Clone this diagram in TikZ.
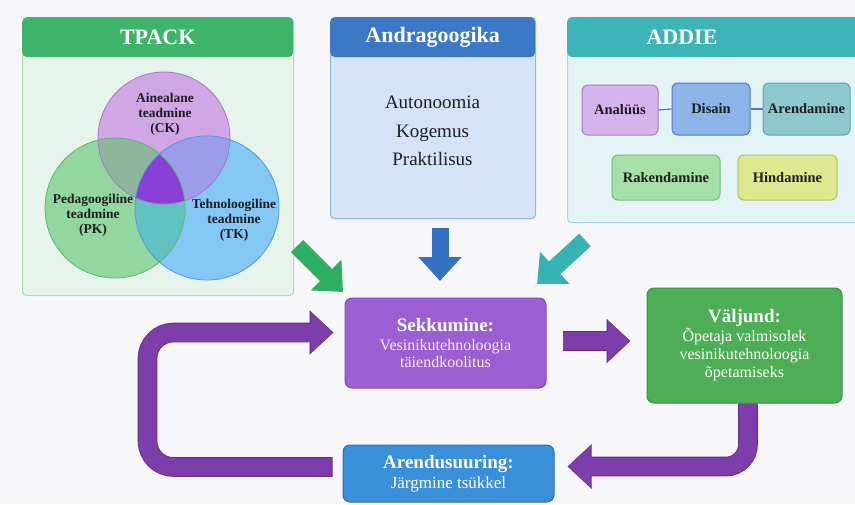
\documentclass[tikz,border=0pt]{standalone}
\usepackage{fontspec}
\setmainfont{Liberation Serif}
\usetikzlibrary{arrows.meta,calc}
\definecolor{bg}{HTML}{F7F7FA}
\definecolor{tphead}{HTML}{3DB46A}
\definecolor{tpbody}{HTML}{E6F4EC}
\definecolor{tpborder}{HTML}{A9DCB8}
\definecolor{anhead}{HTML}{3B78C6}
\definecolor{anbody}{HTML}{D5E3F6}
\definecolor{anborder}{HTML}{93B5E4}
\definecolor{adhead}{HTML}{3CB4B8}
\definecolor{adbody}{HTML}{E3F3F6}
\definecolor{adborder}{HTML}{9ED8DC}
\definecolor{ckonly}{HTML}{D0A6E4}
\definecolor{pkonly}{HTML}{93D7A0}
\definecolor{tkonly}{HTML}{86C8F5}
\definecolor{ckpk}{HTML}{8FB59F}
\definecolor{cktk}{HTML}{9D9CEB}
\definecolor{pktk}{HTML}{62C2C2}
\definecolor{ckpktk}{HTML}{8A3FD6}
\definecolor{ckline}{HTML}{A577C4}
\definecolor{pkline}{HTML}{5DB56C}
\definecolor{tkline}{HTML}{4A9AE0}
\definecolor{analf}{HTML}{D5B3EB}
\definecolor{anall}{HTML}{A67CC8}
\definecolor{disf}{HTML}{8DB4E8}
\definecolor{disl}{HTML}{4C7BC8}
\definecolor{arenf}{HTML}{8EC9CF}
\definecolor{arenl}{HTML}{5AA5AD}
\definecolor{rakf}{HTML}{A6E0A6}
\definecolor{rakl}{HTML}{6CC07A}
\definecolor{hinf}{HTML}{DDE88F}
\definecolor{hinl}{HTML}{B4C458}
\definecolor{sekf}{HTML}{9C5FD1}
\definecolor{sekl}{HTML}{7E48B8}
\definecolor{aruf}{HTML}{3A8FD9}
\definecolor{arul}{HTML}{2A70B8}
\definecolor{valf}{HTML}{4DAE55}
\definecolor{vall}{HTML}{3A9040}
\definecolor{purp}{HTML}{7D3DAB}
\definecolor{purpdark}{HTML}{5E2A88}
\definecolor{garr}{HTML}{2FAF63}
\definecolor{barr}{HTML}{3471C2}
\definecolor{tarr}{HTML}{36B2B3}
\definecolor{txt}{HTML}{1E1E1E}
\begin{document}
\begin{tikzpicture}[x=1pt,y=-1pt,
  panel/.style={draw, line width=1pt, rounded corners=4pt, anchor=north west, inner sep=0pt},
  header/.style={rounded corners=5pt, anchor=north west, inner sep=0pt, minimum height=40pt,
     text=white, font=\fontsize{22}{24}\selectfont\bfseries},
  vennlabel/.style={align=center, text=txt, font=\fontsize{13.5}{15}\selectfont\bfseries},
  stepbox/.style={draw, line width=1pt, rounded corners=6pt, inner sep=0pt, text=txt,
     font=\fontsize{14.5}{16}\selectfont\bfseries},
  mainbox/.style={draw, line width=1pt, rounded corners=7pt, inner sep=0pt, text=white, align=center,
     font=\fontsize{16}{19}\selectfont},
  purpout/.style={draw=purpdark, line width=19.6pt, -{Triangle[length=24pt,width=43pt]}},
  bigpurple/.style={draw=purp, line width=18pt, -{Triangle[length=22pt,width=40pt]}},
  blockarrow/.style={line width=17pt, -{Triangle[length=24pt,width=42pt]}}
]
\useasboundingbox (0,0) rectangle (855,504);
\fill[bg] (0,0) rectangle (855,504);

% ---------- TPACK panel ----------
\node[panel, fill=tpbody, draw=tpborder, minimum width=271pt, minimum height=278pt] (tpack) at (22,17) {};
\node[header, fill=tphead, minimum width=271pt] (tpackh) at (22,17) {TPACK};

% Venn diagram
\def\ckc{(164,138) circle (66)}
\def\pkc{(115,208) circle (70)}
\def\tkc{(207,208) circle (72)}
\fill[ckonly] \ckc;
\fill[pkonly] \pkc;
\fill[tkonly] \tkc;
\begin{scope}\clip \ckc; \fill[ckpk] \pkc; \fill[cktk] \tkc; \end{scope}
\begin{scope}\clip \pkc; \fill[pktk] \tkc; \end{scope}
\begin{scope}\clip \ckc; \clip \pkc; \fill[ckpktk] \tkc; \end{scope}
\draw[ckline, line width=0.8pt] \ckc;
\draw[pkline, line width=0.8pt] \pkc;
\draw[tkline, line width=0.8pt] \tkc;
\node[vennlabel] (ck) at (165,114) {Ainealane\\teadmine\\(CK)};
\node[vennlabel] (pk) at (93,215) {Pedagoogiline\\teadmine\\(PK)};
\node[vennlabel] (tk) at (234,220) {Tehnoloogiline\\teadmine\\(TK)};

% ---------- Andragoogika panel ----------
\node[panel, fill=anbody, draw=anborder, minimum width=205pt, minimum height=201pt] (andr) at (330,17) {};
\node[header, fill=anhead, minimum width=205pt] (andrh) at (330,17) {Andragoogika};
\node[align=center, text=txt, font=\fontsize{19}{28.5}\selectfont] (andrt) at (432.5,131) {Autonoomia\\Kogemus\\Praktilisus};

% ---------- ADDIE panel ----------
\node[panel, fill=adbody, draw=adborder, minimum width=292pt, minimum height=205pt] (addie) at (567,17) {};
\node[header, fill=adhead, minimum width=292pt] (addieh) at (567,17) {};
\node[text=white, font=\fontsize{22}{24}\selectfont\bfseries] (addiet) at (682,37) {ADDIE};
\node[stepbox, fill=analf, draw=anall, minimum width=76pt, minimum height=50pt] (anal) at (620,110) {Analüüs};
\node[stepbox, fill=disf, draw=disl, minimum width=78pt, minimum height=52pt] (dis) at (711,109) {Disain};
\node[stepbox, fill=arenf, draw=arenl, minimum width=87pt, minimum height=52pt] (arend) at (806.5,109) {Arendamine};
\node[stepbox, fill=rakf, draw=rakl, minimum width=108pt, minimum height=45pt] (rak) at (666,177.5) {Rakendamine};
\node[stepbox, fill=hinf, draw=hinl, minimum width=99pt, minimum height=45pt] (hin) at (787.5,177.5) {Hindamine};
\draw[disl, line width=1.2pt] (anal.east) -- (dis.west);
\draw[disl, line width=1.2pt] (dis.east) -- (arend.west);

% ---------- main boxes ----------
\node[mainbox, fill=sekf, draw=sekl, minimum width=201pt, minimum height=90pt] (sekk) at (445.5,343)
  {{\fontsize{19}{20}\selectfont\bfseries Sekkumine:}\\[0pt]\color{white!93!violet}Vesinikutehnoloogia\\[-2pt]\color{white!93!violet}täiendkoolitus};
\node[mainbox, fill=valf, draw=vall, minimum width=195pt, minimum height=115pt] (vald) at (744.5,345.5)
  {{\fontsize{19}{20}\selectfont\bfseries Väljund:}\\[0pt]Õpetaja valmisolek\\[-1pt]vesinikutehnoloogia\\[-1pt]õpetamiseks};
\node[mainbox, fill=aruf, draw=arul, minimum width=211pt, minimum height=57pt] (aren) at (448.5,473.5)
  {{\fontsize{19}{20}\selectfont\bfseries Arendusuuring:}\\[1pt]{\fontsize{17}{19}\selectfont Järgmine tsükkel}};

% ---------- input arrows ----------
\coordinate (gtail) at (297,246);
\coordinate (gtip) at (343,292);
\draw[blockarrow, draw=garr] (gtail) -- (gtip);
\coordinate (btail) at (440,228);
\coordinate (btip) at (440,281);
\draw[blockarrow, draw=barr] (btail) -- (btip);
\coordinate (ttail) at (585,240);
\coordinate (ttip) at (537,284);
\draw[blockarrow, draw=tarr] (ttail) -- (ttip);

% ---------- purple flow arrows ----------
\draw[purpout] ($(sekk.east)+(16,-2)$) -- ($(sekk.east -| vald.west)+(-16,-2)$);
\draw[bigpurple] ($(sekk.east)+(16.8,-2)$) -- ($(sekk.east -| vald.west)+(-17,-2)$);
\draw[purpout, rounded corners=22pt] ($(vald.south)+(3.5,0)$) |- ($(aren.east)+(13,-7)$);
\draw[bigpurple, rounded corners=22pt] ($(vald.south)+(3.5,0)$) |- ($(aren.east)+(14,-7)$);
\draw[purpout, rounded corners=26pt] ($(aren.west)+(-10,-6.5)$) -| (147.5,332.5) -- ($(sekk.west)+(-11,-10.5)$);
\draw[bigpurple, rounded corners=26pt] ($(aren.west)+(-10.8,-6.5)$) -| (147.5,332.5) -- ($(sekk.west)+(-12,-10.5)$);
\end{tikzpicture}
\end{document}
